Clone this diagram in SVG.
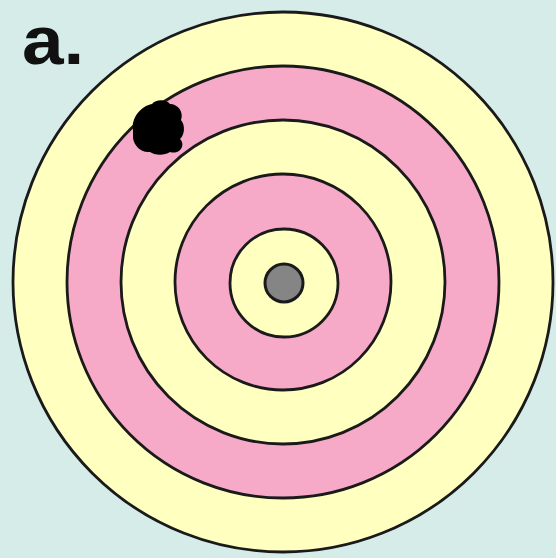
<svg xmlns="http://www.w3.org/2000/svg" width="556" height="558" viewBox="0 0 556 558">
<style>
.ring{stroke:#1a1a1a;stroke-width:2.8}
.y{fill:#ffffc0}
.p{fill:#f7a9c8}
</style>
<rect width="556" height="558" fill="#d5ece9"/>
<g id="target">
<circle class="ring y" cx="283" cy="282" r="270"/>
<circle class="ring p" cx="283" cy="282" r="216"/>
<circle class="ring y" cx="283" cy="282" r="162"/>
<circle class="ring p" cx="283" cy="282" r="108"/>
<circle class="ring y" cx="284" cy="283" r="54"/>
<circle cx="284" cy="283" r="19" fill="#858585" stroke="#1a1a1a" stroke-width="3"/>
</g>
<g id="blob">
<path d="M133,130 C131,118 141,106 152,104 C156,99 166,99 170,104 C178,104 184,112 181,120 C186,126 184,136 180,139 C186,145 180,155 170,152 C164,156 154,155 150,152 C140,153 134,145 133,138 Z" fill="#000"/>
</g>
<g id="label">
<text x="0" y="64" font-family="Liberation Sans, Arial, sans-serif" font-weight="bold" font-size="68" fill="#111" transform="translate(22,0) scale(1.1,1)">a.</text>
</g>
</svg>
